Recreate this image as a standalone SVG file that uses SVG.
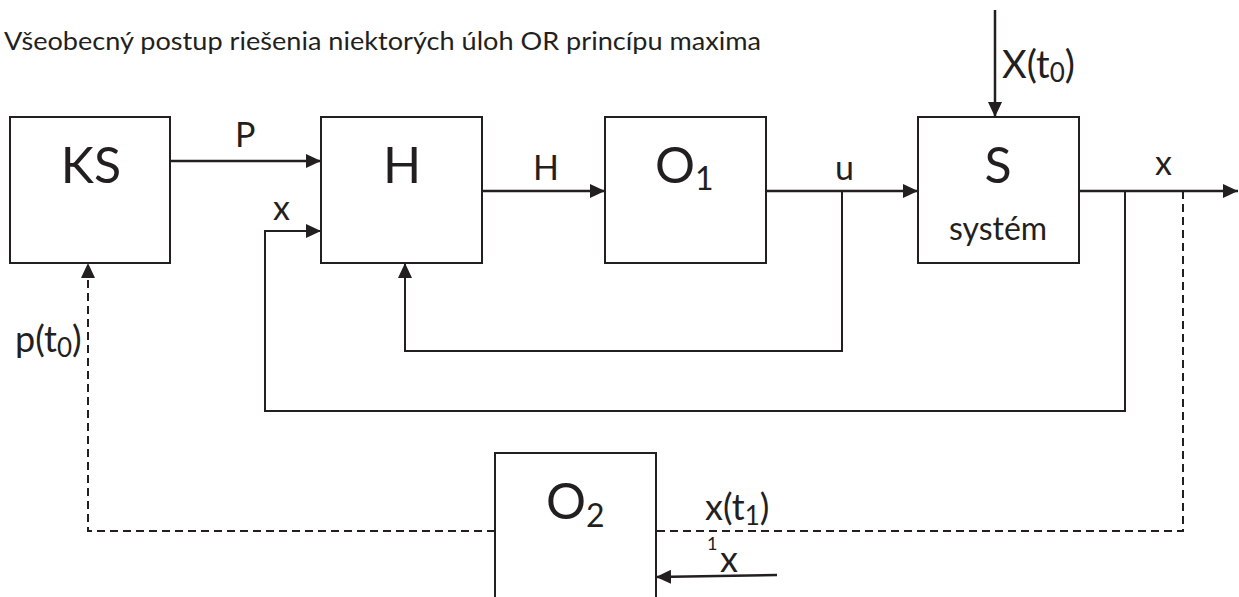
<svg xmlns="http://www.w3.org/2000/svg" width="1239" height="597" viewBox="0 0 1239 597">
<style>
.box{fill:#fff;stroke:#231f20;stroke-width:2}
.ln{fill:none;stroke:#231f20;stroke-width:2.5}
.fb{fill:none;stroke:#231f20;stroke-width:2}
.dash{fill:none;stroke:#231f20;stroke-width:2;stroke-dasharray:8 5}
text{font-family:Lato,"Open Sans","Liberation Sans",sans-serif;fill:#231f20}
.big{font-size:50px}
.lab{font-size:34px}
</style>
<defs>
<marker id="arr" markerUnits="userSpaceOnUse" markerWidth="16" markerHeight="14" refX="15" refY="7" orient="auto">
<path d="M0,0 L15,7 L0,14 z" fill="#231f20"/>
</marker>
</defs>
<rect width="1239" height="597" fill="#fff"/>
<text x="4" y="50" font-size="25" textLength="757" lengthAdjust="spacingAndGlyphs">Všeobecný postup riešenia niektorých úloh OR princípu maxima</text>
<g id="connectors">
<path class="ln" d="M170,161 H321" marker-end="url(#arr)"/>
<path class="ln" d="M482,191 H605" marker-end="url(#arr)"/>
<path class="ln" d="M766,191 H918" marker-end="url(#arr)"/>
<path class="ln" d="M995,10 V117" marker-end="url(#arr)"/>
<path class="ln" d="M1079,191 H1238" marker-end="url(#arr)"/>
<path class="fb" d="M1125,191 V411 H265 V231 H321" marker-end="url(#arr)"/>
<path class="fb" d="M842,191 V351 H405 V263" marker-end="url(#arr)"/>
<path class="dash" d="M1183,191 V531 H655"/>
<path class="dash" d="M495,531 H88 V263" marker-end="url(#arr)"/>
<path class="ln" d="M777,575 L656,577" marker-end="url(#arr)"/>
<text class="lab" x="235" y="147">P</text>
<text class="lab" x="533" y="180">H</text>
<text class="lab" x="273" y="220">x</text>
<text class="lab" x="835" y="180">u</text>
<text class="lab" x="1155" y="175">x</text>
<text x="1002" y="78" font-size="38">X(t<tspan font-size="26" dy="4">0</tspan><tspan dy="-4">)</tspan></text>
<text x="15" y="352" font-size="36">p(t<tspan font-size="26" dy="5">0</tspan><tspan dy="-5">)</tspan></text>
<text x="705" y="520" font-size="36">x(t<tspan font-size="26" dy="5">1</tspan><tspan dy="-5">)</tspan></text>
<text x="707" y="550" font-size="18">1</text>
<text x="720" y="572" font-size="36">x</text>
</g>
<g id="KS">
<rect class="box" x="10" y="117" width="160" height="146"/>
<text class="big" x="91" y="183" text-anchor="middle">KS</text>
</g>
<g id="H">
<rect class="box" x="321" y="117" width="161" height="146"/>
<text class="big" x="402" y="183" text-anchor="middle">H</text>
</g>
<g id="O1">
<rect class="box" x="605" y="117" width="161" height="146"/>
<text class="big" x="655" y="183">O<tspan font-size="32" dy="7">1</tspan></text>
</g>
<g id="S">
<rect class="box" x="918" y="117" width="161" height="146"/>
<text class="big" x="998" y="183" text-anchor="middle">S</text>
<text x="998" y="240" font-size="32" text-anchor="middle">systém</text>
</g>
<g id="O2">
<rect class="box" x="495" y="453" width="161" height="160"/>
<text class="big" x="546" y="519">O<tspan font-size="32" dy="8">2</tspan></text>
</g>
</svg>
